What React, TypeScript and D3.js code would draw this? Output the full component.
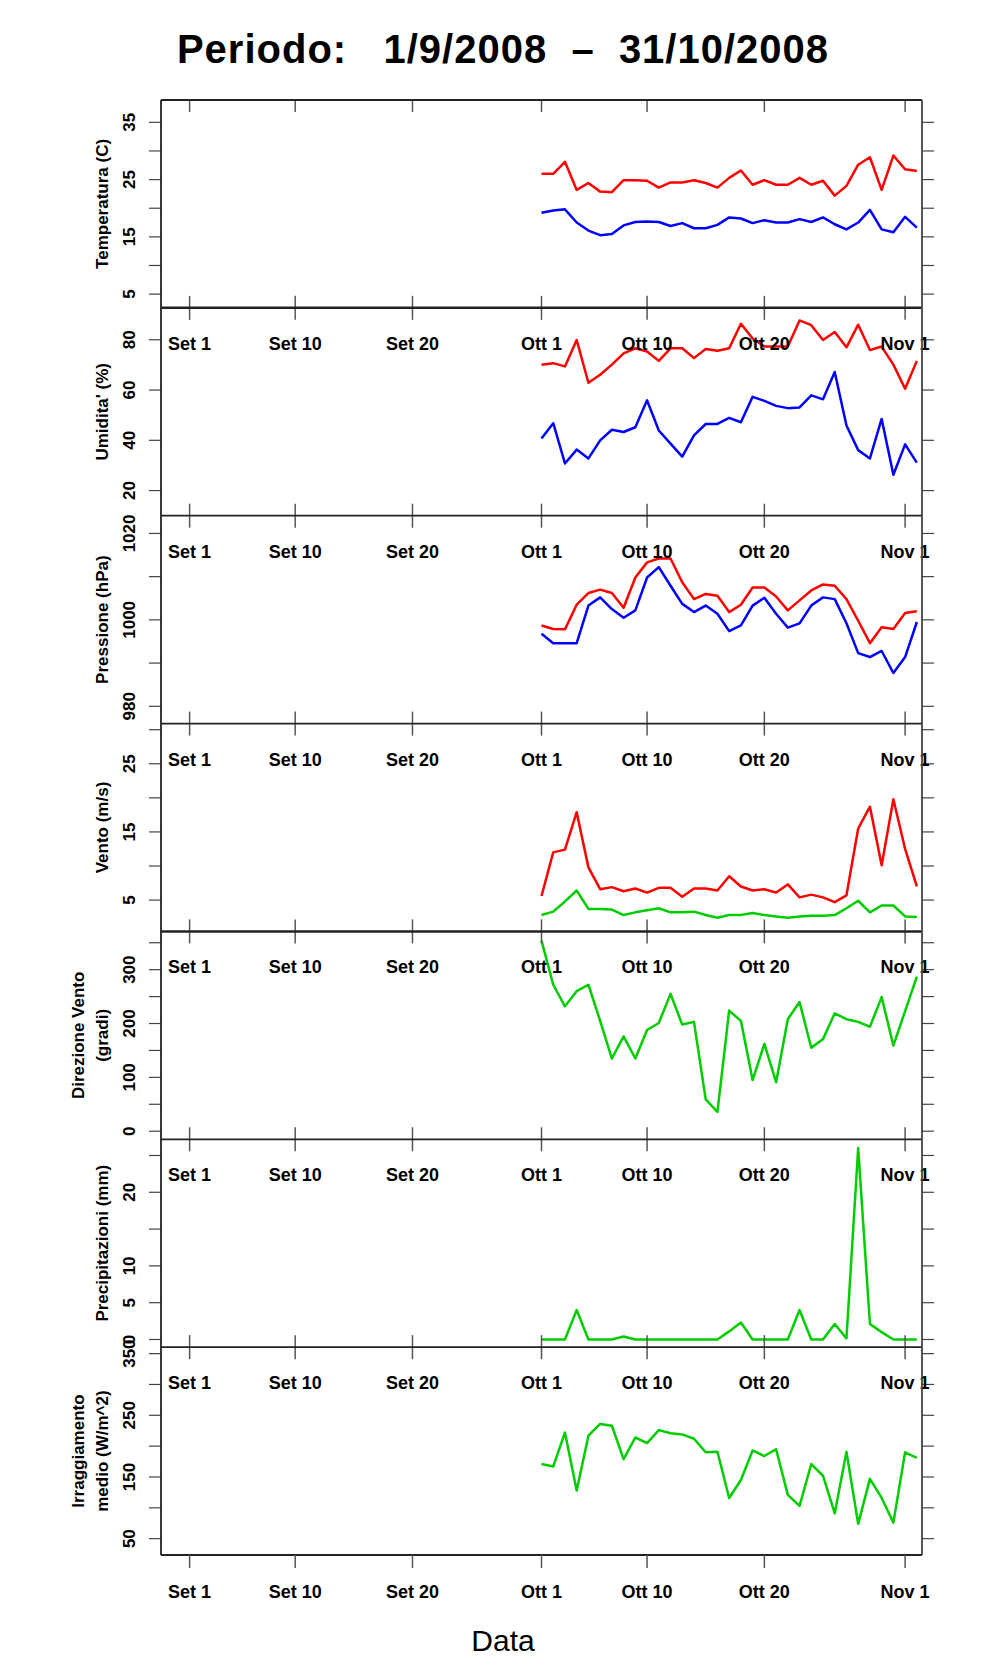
import React from 'react';
import * as d3 from 'd3';

// days counted from 1 Sep 2008 (day 0); data runs from 1 Oct (day 30)
const days = d3.range(30, 63);

const tempMax = [26.0, 26.0, 28.1, 23.2, 24.4, 22.9, 22.8, 24.9, 24.9, 24.8, 23.6, 24.5, 24.5, 24.9, 24.4, 23.6, 25.3, 26.6, 24.1, 24.9, 24.1, 24.1, 25.3, 24.1, 24.8, 22.2, 23.9, 27.6, 28.9, 23.2, 29.2, 26.8, 26.5];
const tempMin = [19.2, 19.6, 19.8, 17.5, 16.1, 15.3, 15.5, 17.0, 17.6, 17.7, 17.6, 16.9, 17.4, 16.5, 16.5, 17.1, 18.4, 18.2, 17.4, 17.9, 17.5, 17.5, 18.1, 17.6, 18.4, 17.2, 16.3, 17.5, 19.7, 16.3, 15.8, 18.5, 16.6];
const humMax = [70.1, 70.7, 69.4, 79.9, 62.9, 66.1, 70.1, 74.6, 76.6, 75.3, 71.6, 76.6, 76.6, 72.7, 76.3, 75.6, 76.6, 86.4, 80.5, 77.3, 77.3, 77.3, 87.7, 85.8, 79.9, 83.1, 77.0, 86.0, 75.9, 77.3, 70.1, 60.5, 71.6];
const humMin = [40.7, 46.8, 30.8, 36.3, 32.8, 40.0, 44.2, 43.3, 45.2, 55.9, 43.9, 38.7, 33.5, 42.0, 46.5, 46.5, 48.9, 47.2, 57.3, 55.7, 53.7, 52.8, 53.1, 57.9, 56.3, 67.2, 45.9, 36.1, 32.8, 48.5, 26.3, 38.4, 31.1];
const pressMax = [998.7, 997.9, 997.8, 1003.5, 1006.2, 1007.0, 1006.2, 1002.8, 1009.8, 1013.3, 1014.2, 1014.2, 1008.7, 1004.8, 1006.0, 1005.6, 1001.8, 1003.5, 1007.5, 1007.5, 1005.4, 1002.2, 1004.5, 1006.8, 1008.2, 1007.9, 1004.8, 999.8, 994.6, 998.3, 997.9, 1001.6, 1002.0];
const pressMin = [996.8, 994.6, 994.6, 994.6, 1003.3, 1005.2, 1002.5, 1000.5, 1002.2, 1009.8, 1012.2, 1007.9, 1003.7, 1001.8, 1003.3, 1001.4, 997.4, 998.7, 1003.3, 1005.1, 1001.4, 998.2, 999.2, 1003.3, 1005.2, 1004.8, 999.2, 992.3, 991.4, 992.8, 987.7, 991.4, 999.5];
const windMax = [5.6, 12.0, 12.4, 17.9, 9.8, 6.6, 6.9, 6.3, 6.7, 6.1, 6.8, 6.8, 5.5, 6.7, 6.7, 6.4, 8.5, 7.0, 6.4, 6.6, 6.1, 7.3, 5.4, 5.8, 5.4, 4.7, 5.7, 15.5, 18.7, 10.1, 19.8, 12.5, 7.0];
const windMean = [2.8, 3.3, 4.8, 6.4, 3.7, 3.7, 3.6, 2.8, 3.2, 3.5, 3.8, 3.2, 3.2, 3.3, 2.8, 2.4, 2.8, 2.8, 3.1, 2.8, 2.6, 2.4, 2.6, 2.7, 2.7, 2.8, 3.8, 4.9, 3.2, 4.2, 4.2, 2.6, 2.5];
const windDir = [354, 272, 232, 260, 272, 205, 135, 176, 135, 188, 201, 255, 198, 203, 59, 36, 224, 205, 95, 162, 91, 208, 240, 155, 171, 219, 208, 203, 194, 249, 159, 223, 287];
const rain = [0, 0, 0, 4.0, 0, 0, 0, 0.4, 0, 0, 0, 0, 0, 0, 0, 0, 1.1, 2.3, 0, 0, 0, 0, 4.0, 0, 0, 2.1, 0.15, 26.0, 2.1, 1.0, 0, 0, 0];
const irr = [171, 167, 222, 128, 217, 236, 233, 179, 214, 205, 226, 221, 219, 212, 190, 191, 116, 145, 193, 184, 195, 121, 103, 171, 152, 91, 191, 74, 147, 116, 76, 190, 181];

const dateTicks = [0, 9, 19, 30, 39, 49, 61];
const dateLabels = ['Set 1', 'Set 10', 'Set 20', 'Ott 1', 'Ott 10', 'Ott 20', 'Nov 1'];

const RED = '#ff0000';
const BLUE = '#0000ff';
const GREEN = '#00cd00';

interface Panel {
  title: string[];
  domain: [number, number];
  ticks: number[];
  labels: number[];
  series: { values: number[]; color: string }[];
}

const panels: Panel[] = [
  { title: ['Temperatura (C)'], domain: [2.6, 38.9], ticks: [5, 10, 15, 20, 25, 30, 35], labels: [5, 15, 25, 35],
    series: [{ values: tempMax, color: RED }, { values: tempMin, color: BLUE }] },
  { title: ["Umidita' (%)"], domain: [10, 92.7], ticks: [20, 40, 60, 80], labels: [20, 40, 60, 80],
    series: [{ values: humMax, color: RED }, { values: humMin, color: BLUE }] },
  { title: ['Pressione (hPa)'], domain: [976, 1024.1], ticks: [980, 990, 1000, 1010, 1020], labels: [980, 1000, 1020],
    series: [{ values: pressMax, color: RED }, { values: pressMin, color: BLUE }] },
  { title: ['Vento (m/s)'], domain: [0.4, 30.9], ticks: [5, 10, 15, 20, 25, 30], labels: [5, 15, 25],
    series: [{ values: windMax, color: RED }, { values: windMean, color: GREEN }] },
  { title: ['Direzione Vento', '(gradi)'], domain: [-15, 371], ticks: [0, 50, 100, 150, 200, 250, 300, 350], labels: [0, 100, 200, 300],
    series: [{ values: windDir, color: GREEN }] },
  { title: ['Precipitazioni (mm)'], domain: [-1.04, 27.2], ticks: [0, 5, 10, 15, 20, 25], labels: [0, 5, 10, 20],
    series: [{ values: rain, color: GREEN }] },
  { title: ['Irraggiamento', 'medio (W/m^2)'], domain: [23.5, 360.5], ticks: [50, 100, 150, 200, 250, 300, 350], labels: [50, 150, 250, 350],
    series: [{ values: irr, color: GREEN }] },
];

const W = 996;
const H = 1680;
const left = 161;
const right = 922;
const top = 100;
const bottom = 1555;
const ph = (bottom - top) / panels.length;
const font = 'Liberation Sans, Arial, Helvetica, sans-serif';

export default function App() {
  const x = d3.scaleLinear().domain([-2.44, 62.44]).range([left, right]);

  return (
    <svg width={W} height={H} style={{ position: 'absolute', left: 0, top: 0, background: '#fff' }} fontFamily={font}>
      <text x={503} y={63} textAnchor="middle" fontSize={40} fontWeight="bold" letterSpacing={1} style={{ whiteSpace: 'pre' }}>
        {'Periodo:   1/9/2008  \u2013  31/10/2008'}
      </text>
      {panels.map((p, i) => {
        const y0 = top + i * ph;
        const y1 = y0 + ph;
        const y = d3.scaleLinear().domain(p.domain).range([y1, y0]);
        const line = d3.line<number>().x((_, k) => x(days[k])).y(v => y(v));
        const cid = `clip-${i}`;
        const mid = (y0 + y1) / 2;
        return (
          <g key={i}>
            <clipPath id={cid}>
              <rect x={left} y={y0} width={right - left} height={ph} />
            </clipPath>
            {p.series.map((s, k) => (
              <path key={k} d={line(s.values) || ''} fill="none" stroke={s.color} strokeWidth={2.5}
                strokeLinejoin="round" clipPath={`url(#${cid})`} />
            ))}
            {p.ticks.map(t => (
              <g key={t} stroke="#444" strokeWidth={1.2}>
                <line x1={left - 12} x2={left} y1={y(t)} y2={y(t)} />
                <line x1={right} x2={right + 12} y1={y(t)} y2={y(t)} />
              </g>
            ))}
            {p.labels.map(t => (
              <text key={t} transform={`translate(135,${y(t)}) rotate(-90)`} textAnchor="middle"
                fontSize={17} fontWeight="bold">{t}</text>
            ))}
            {p.title.length === 1 ? (
              <text transform={`translate(108,${mid}) rotate(-90)`} textAnchor="middle" fontSize={17} fontWeight="bold">
                {p.title[0]}
              </text>
            ) : (
              <g>
                <text transform={`translate(84,${mid}) rotate(-90)`} textAnchor="middle" fontSize={17} fontWeight="bold">
                  {p.title[0]}
                </text>
                <text transform={`translate(108,${mid}) rotate(-90)`} textAnchor="middle" fontSize={17} fontWeight="bold">
                  {p.title[1]}
                </text>
              </g>
            )}
            {dateTicks.map((d, k) => (
              <g key={d}>
                <line x1={x(d)} x2={x(d)} y1={i === 0 ? y0 : y0 - 12} y2={y0 + 12} stroke="#555" strokeWidth={1.5} />
                {i > 0 && (
                  <text x={x(d)} y={y0 + 42} textAnchor="middle" fontSize={18} fontWeight="bold">{dateLabels[k]}</text>
                )}
              </g>
            ))}
            <line x1={left} x2={right} y1={y0} y2={y0} stroke="#222" strokeWidth={i === 1 || i === 4 ? 2.5 : 1.8} />
          </g>
        );
      })}
      <line x1={left} x2={right} y1={bottom} y2={bottom} stroke="#222" strokeWidth={1.8} />
      <line x1={left} x2={left} y1={top} y2={bottom} stroke="#222" strokeWidth={1.8} />
      <line x1={right} x2={right} y1={top} y2={bottom} stroke="#444" strokeWidth={1.8} />
      {dateTicks.map((d, k) => (
        <g key={d}>
          <line x1={x(d)} x2={x(d)} y1={bottom} y2={bottom + 13} stroke="#555" strokeWidth={1.5} />
          <text x={x(d)} y={bottom + 43} textAnchor="middle" fontSize={18} fontWeight="bold">{dateLabels[k]}</text>
        </g>
      ))}
      <text x={503} y={1651} textAnchor="middle" fontSize={30}>Data</text>
    </svg>
  );
}
